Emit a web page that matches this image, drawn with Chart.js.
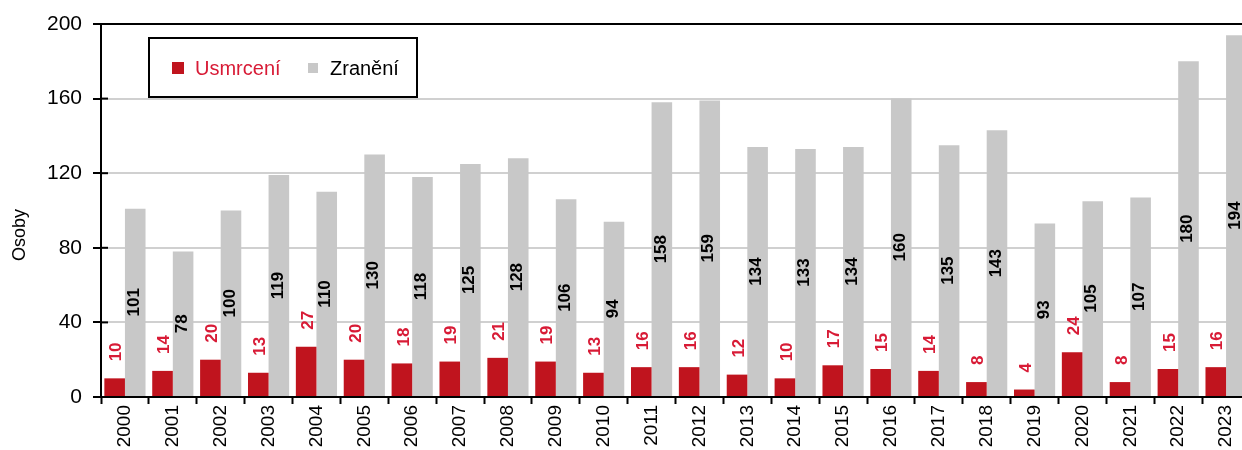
<!DOCTYPE html>
<html>
<head>
<meta charset="utf-8">
<script src="https://cdn.jsdelivr.net/npm/chart.js@4/dist/chart.umd.min.js"></script>
<style>
    body { margin: 0; overflow: hidden; background: #fff; }
    #obal { width: 1252px; height: 460px; }
</style>
</head>
<body>
<div id="obal"><canvas id="nehody-grafica"></canvas></div>
<script>
const roky = ['2000', '2001', '2002', '2003', '2004', '2005', '2006', '2007', '2008', '2009', '2010', '2011',
    '2012', '2013', '2014', '2015', '2016', '2017', '2018', '2019', '2020', '2021', '2022', '2023'];
const usmrceni = [10, 14, 20, 13, 27, 20, 18, 19, 21, 19, 13, 16, 16, 12, 10, 17, 15, 14, 8, 4, 24, 8, 15, 16];
const zraneni = [101, 78, 100, 119, 110, 130, 118, 125, 128, 106, 94, 158, 159, 134, 133, 134, 160, 135, 143, 93, 105, 107, 180, 194];
const osaY = [0, 40, 80, 120, 160, 200];

(function() {
    const pismo = 'Arial, "Liberation Sans", sans-serif';
    const cervena = '#c0141e';
    const seda = '#c8c8c8';
    const cervenyText = '#d81b36';

    // popisky hodnot u sloupcu + legenda + nazev osy
    const popisky = {
        id: 'popisky',
        afterDatasetsDraw(chart) {
            const ctx = chart.ctx;
            ctx.save();
            ctx.font = 'bold 17px ' + pismo;
            chart.data.datasets.forEach((dataset, i) => {
                const meta = chart.getDatasetMeta(i);
                meta.data.forEach((bar, j) => {
                    const hodnota = dataset.data[j];
                    ctx.save();
                    if (i === 0) {
                        ctx.translate(bar.x + 2, bar.y - 17);
                        ctx.rotate(-Math.PI / 2);
                        ctx.textAlign = 'left';
                        ctx.fillStyle = cervenyText;
                    } else {
                        ctx.translate(bar.x - 1, (bar.y + bar.base) / 2);
                        ctx.rotate(-Math.PI / 2);
                        ctx.textAlign = 'center';
                        ctx.fillStyle = '#000';
                    }
                    ctx.textBaseline = 'middle';
                    ctx.fillText(hodnota, 0, 0);
                    ctx.restore();
                });
            });
            ctx.restore();
        },
        afterDraw(chart) {
            const ctx = chart.ctx;
            const area = chart.chartArea;
            const y = chart.scales.y;
            ctx.save();

            // kratke znacky prechazejici pres osu
            ctx.strokeStyle = '#000';
            ctx.lineWidth = 2;
            osaY.forEach(v => {
                const py = y.getPixelForValue(v);
                ctx.beginPath();
                ctx.moveTo(area.left, py);
                ctx.lineTo(area.left + 7, py);
                ctx.stroke();
            });

            // nazev osy
            ctx.save();
            ctx.translate(20, 235);
            ctx.rotate(-Math.PI / 2);
            ctx.font = '18px ' + pismo;
            ctx.fillStyle = '#000';
            ctx.textAlign = 'center';
            ctx.textBaseline = 'middle';
            ctx.fillText('Osoby', 0, 0);
            ctx.restore();

            // legenda
            const lx = area.left + 48;
            const ly = area.top + 14;
            ctx.fillStyle = '#fff';
            ctx.fillRect(lx, ly, 268, 59);
            ctx.strokeStyle = '#000';
            ctx.lineWidth = 2;
            ctx.strokeRect(lx, ly, 268, 59);
            ctx.font = '20px ' + pismo;
            ctx.textBaseline = 'middle';
            ctx.textAlign = 'left';
            ctx.fillStyle = cervena;
            ctx.fillRect(lx + 23, ly + 24, 12, 12);
            ctx.fillStyle = cervenyText;
            ctx.fillText(chart.data.datasets[0].label, lx + 46, ly + 31);
            ctx.fillStyle = seda;
            ctx.fillRect(lx + 159, ly + 25, 10, 10);
            ctx.fillStyle = '#000';
            ctx.fillText(chart.data.datasets[1].label, lx + 181, ly + 31);
            ctx.restore();
        }
    };

    const ctx = document.getElementById('nehody-grafica').getContext('2d');
    const myChart = new Chart(ctx, {
        type: 'bar',
        data: {
            labels: roky,
            datasets: [{
                label: 'Usmrcení',
                data: usmrceni,
                backgroundColor: cervena
            }, {
                label: 'Zranění',
                data: zraneni,
                backgroundColor: seda
            }]
        },
        options: {
            responsive: true,
            maintainAspectRatio: false,
            animation: false,
            categoryPercentage: 0.86,
            barPercentage: 1,
            layout: {
                padding: { top: 24, right: 2, left: 0, bottom: 0 }
            },
            plugins: {
                legend: { display: false },
                tooltip: { enabled: false }
            },
            scales: {
                x: {
                    grid: {
                        drawOnChartArea: false,
                        offset: true,
                        tickLength: 7,
                        tickColor: '#000',
                        tickWidth: 2
                    },
                    border: { display: true, color: '#000', width: 2 },
                    ticks: {
                        minRotation: 90,
                        maxRotation: 90,
                        autoSkip: false,
                        padding: 1,
                        color: '#000',
                        font: { size: 19, family: pismo }
                    },
                    afterFit(scale) {
                        scale.height = 63;
                    }
                },
                y: {
                    min: 0,
                    max: 200,
                    afterBuildTicks(scale) {
                        scale.ticks = osaY.map(v => ({ value: v }));
                    },
                    grid: {
                        color: c => c.tick && c.tick.value === 200 ? '#000' : '#d0d0d0',
                        lineWidth: 2,
                        tickLength: 8,
                        tickColor: '#000',
                        tickWidth: 2
                    },
                    border: { display: true, color: '#000', width: 2 },
                    ticks: {
                        padding: 11,
                        color: '#000',
                        font: { size: 21, family: pismo }
                    },
                    afterFit(scale) {
                        scale.width = 101;
                    }
                }
            }
        },
        plugins: [popisky]
    });
})();
</script>
</body>
</html>
